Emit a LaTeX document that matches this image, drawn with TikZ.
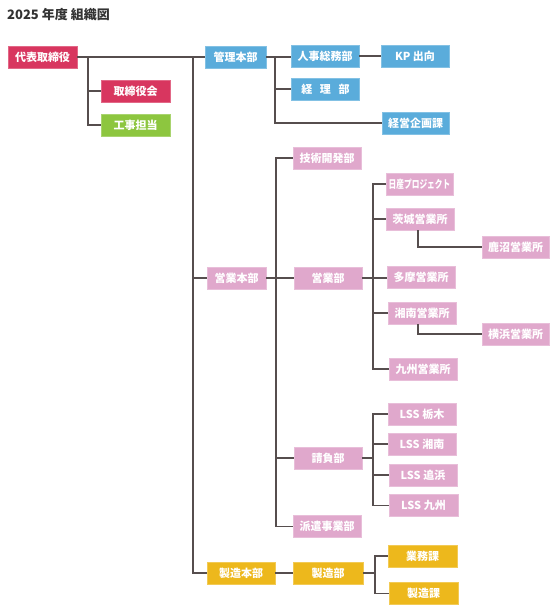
\documentclass[tikz,border=0pt]{standalone}
\usepackage{fontspec}
\setmainfont{Noto Sans CJK JP}
\usetikzlibrary{calc}
\definecolor{cred}{HTML}{D8365F}
\definecolor{cgreen}{HTML}{8DC63F}
\definecolor{cblue}{HTML}{5AACDB}
\definecolor{cpink}{HTML}{E0A8CC}
\definecolor{cgold}{HTML}{EDB81C}
\definecolor{cline}{HTML}{564E4E}
\definecolor{ctitle}{HTML}{333333}
\tikzset{
  box/.style={rectangle, inner sep=0pt, minimum height=22pt, minimum width=68pt,
    text=white, font=\fontsize{11}{12}\selectfont\bfseries, line width=0.8pt},
  redbox/.style={box, fill=cred, draw=cred!75!white},
  greenbox/.style={box, fill=cgreen, draw=cgreen!75!white},
  bluebox/.style={box, fill=cblue, draw=cblue!75!white},
  pinkbox/.style={box, fill=cpink, draw=cpink!75!white},
  goldbox/.style={box, fill=cgold, draw=cgold!75!white},
  conn/.style={draw=cline, line width=1.1pt}
}
\begin{document}
\begin{tikzpicture}[x=1pt,y=1pt]
\useasboundingbox (0,0) rectangle (550,-605);
\node[anchor=west, text=ctitle, font=\fontsize{13}{15}\selectfont\bfseries, inner sep=0pt] (title) at (7,-15) {2025 年度 組織図};

% nodes
\node[redbox, minimum width=69pt] (ceo) at (42.5,-57) {代表取締役};
\node[redbox, minimum width=69pt] (board) at (135.5,-91) {取締役会};
\node[greenbox, minimum width=69pt] (koji) at (135.5,-125) {工事担当};

\node[bluebox, minimum width=61pt] (kanri) at (235.5,-57) {管理本部};
\node[bluebox] (jinji) at (325,-56) {人事総務部};
\node[bluebox] (kp) at (415,-56) {KP 出向};
\node[bluebox] (keiri) at (325.5,-89) {経\hspace{0.7em}理\hspace{0.7em}部};
\node[bluebox, minimum width=67pt] (kikaku) at (415.5,-123) {経営企画課};

\node[pinkbox, minimum width=59pt] (eigyoH) at (236.5,-278) {営業本部};
\node[pinkbox] (gijutsu) at (327,-158) {技術開発部};
\node[pinkbox] (eigyo) at (328,-278) {営業部};
\node[pinkbox, minimum width=67pt] (nissan) at (419.5,-184) {\scalebox{0.7}[1]{日産プロジェクト}};
\node[pinkbox] (ibaraki) at (420,-219) {茨城営業所};
\node[pinkbox, minimum width=67pt] (kanuma) at (515.5,-247) {鹿沼営業所};
\node[pinkbox] (tama) at (421,-277) {多摩営業所};
\node[pinkbox] (shonan) at (422,-313) {湘南営業所};
\node[pinkbox, minimum width=67pt] (yokohama) at (515.5,-334) {横浜営業所};
\node[pinkbox] (kyushu) at (423,-369) {九州営業所};
\node[pinkbox] (ukeoi) at (328,-458) {請負部};
\node[pinkbox] (lss1) at (422,-414) {LSS 栃木};
\node[pinkbox] (lss2) at (422,-444) {LSS 湘南};
\node[pinkbox] (lss3) at (423,-475) {LSS 追浜};
\node[pinkbox, minimum width=69pt] (lss4) at (423.5,-505.5) {LSS 九州};
\node[pinkbox] (haken) at (327,-526.5) {派遣事業部};

\node[goldbox] (seizoH) at (241,-573) {製造本部};
\node[goldbox, minimum width=70pt] (seizo) at (328,-573) {製造部};
\node[goldbox, minimum width=69pt] (gyomu) at (422.5,-556) {業務課};
\node[goldbox, minimum width=69pt] (seizoka) at (423.5,-593.5) {製造課};

% bus coordinates
\coordinate (b1) at (88,-57);
\coordinate (b2) at (193,-57);
\coordinate (b3) at (275,-57);
\coordinate (b4) at (276,-278);
\coordinate (b5) at (373,-278);
\coordinate (b6) at (373,-458);
\coordinate (b7) at (375,-573);

% connectors
\draw[conn] (ceo.east) -- (kanri.west);
\draw[conn] (b1) |- (board.west);
\draw[conn] (b1) |- (koji.west);
\draw[conn] (b2) |- (eigyoH.west);
\draw[conn] (b2) |- (seizoH.west);

\draw[conn] (kanri.east) -- (jinji.west |- kanri.east);
\draw[conn] (jinji.east) -- (kp.west);
\draw[conn] (b3) |- (keiri.west);
\draw[conn] (b3) |- (kikaku.west);

\draw[conn] (eigyoH.east) -- (eigyo.west);
\draw[conn] (b4) |- (gijutsu.west);
\draw[conn] (b4) |- (ukeoi.west);
\draw[conn] (b4) |- (haken.west);

\draw[conn] (eigyo.east) -- (tama.west |- eigyo.east);
\draw[conn] (b5) |- (nissan.west);
\draw[conn] (b5) |- (ibaraki.west);
\draw[conn] (b5) |- (shonan.west);
\draw[conn] (b5) |- (kyushu.west);
\draw[conn] ($(ibaraki.south)+(-2,0)$) |- (kanuma.west);
\draw[conn] ($(shonan.south)+(-4,0)$) |- (yokohama.west);

\draw[conn] (ukeoi.east) -- (b6);
\draw[conn] (b6) |- (lss1.west);
\draw[conn] (b6) |- (lss2.west);
\draw[conn] (b6) |- (lss3.west);
\draw[conn] (b6) |- (lss4.west);

\draw[conn] (seizoH.east) -- (seizo.west);
\draw[conn] (seizo.east) -- (b7);
\draw[conn] (b7) |- (gyomu.west);
\draw[conn] (b7) |- (seizoka.west);
\end{tikzpicture}
\end{document}
